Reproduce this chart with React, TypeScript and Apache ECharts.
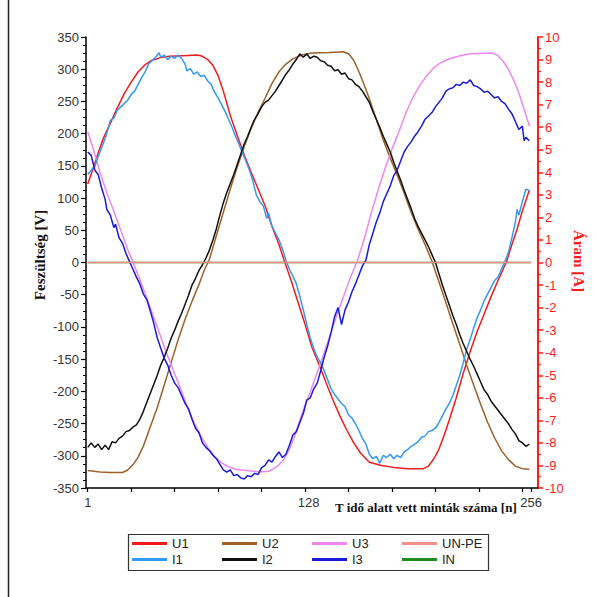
import React, { useEffect, useRef } from "react";
import * as echarts from "echarts";

const xTickValues = [1, 26, 51, 76, 101, 126, 151, 176, 201, 226, 251, 256];
const xLabelValues = [1, 128, 256];

const seriesNames = ["U1", "U2", "U3", "UN-PE", "I1", "I2", "I3", "IN"];
const seriesColors = ["#f01c1c", "#a0602a", "#ee88ee", "#f4928a", "#3399f5", "#111111", "#1a1ad8", "#228b22"];

const u1: number[][] = [[1,122],[4,145],[7,170],[10,193],[14,216],[18,240],[22,262],[26,280],[30,296],[34,307],[38,314],[43,318],[48,320],[56,321],[64,322],[67,320],[70,315],[73,306],[76,290],[79,266],[83,228],[87,197],[91,167],[95,140],[99,114],[103,88],[107,56],[111,28],[114,3],[118,-28],[122,-62],[126,-96],[130,-132],[134,-158],[138,-186],[142,-213],[146,-238],[150,-260],[154,-280],[158,-296],[163,-310],[170,-315],[177,-318],[185,-320],[194,-320],[197,-316],[200,-305],[203,-290],[206,-268],[209,-244],[213,-210],[217,-172],[221,-138],[225,-107],[229,-80],[233,-53],[237,-28],[242,2],[245,28],[248,52],[251,80],[255,112]];

const u2: number[][] = [[1,-323],[8,-325],[14,-326],[21,-326],[24,-322],[27,-314],[30,-302],[33,-285],[37,-255],[41,-225],[45,-190],[49,-155],[53,-120],[57,-88],[61,-60],[65,-34],[68,-12],[71,5],[75,42],[79,78],[83,114],[87,148],[91,180],[95,208],[99,233],[103,255],[107,278],[111,296],[115,308],[119,316],[124,322],[130,325],[140,326],[148,327],[151,324],[154,314],[157,296],[160,276],[163,254],[167,222],[171,190],[175,162],[179,136],[183,108],[187,78],[191,52],[195,28],[199,2],[203,-30],[207,-62],[211,-95],[215,-127],[219,-160],[223,-190],[227,-220],[231,-248],[235,-272],[239,-292],[243,-306],[247,-316],[251,-320],[255,-321]];

const u3: number[][] = [[1,203],[4,178],[8,140],[12,108],[16,80],[20,50],[24,20],[27,1],[30,-20],[34,-48],[38,-78],[42,-108],[46,-138],[50,-166],[54,-193],[58,-222],[62,-248],[66,-269],[70,-287],[74,-301],[78,-311],[82,-317],[86,-321],[92,-323],[100,-325],[105,-324],[108,-320],[111,-314],[114,-305],[117,-290],[120,-270],[123,-245],[126,-222],[129,-201],[132,-178],[136,-148],[140,-116],[144,-84],[148,-54],[152,-24],[156,2],[160,36],[164,76],[168,112],[172,146],[176,176],[180,203],[184,232],[188,256],[192,275],[196,290],[200,302],[204,310],[208,315],[214,320],[221,324],[234,325],[237,321],[240,312],[243,300],[246,283],[249,263],[252,238],[255,212]];

const unpe: number[][] = [[1,0],[256,0]];
const inn: number[][] = [[1,0],[256,0]];

const i1: number[][] = [[1,3.9],[3,4.1],[5,4.25],[7,4.7],[9,5.1],[11,5.5],[13,6.0],[14,6.3],[16,6.4],[18,6.75],[20,6.9],[22,7.05],[24,7.2],[26,7.45],[28,7.6],[30,7.9],[32,8.2],[34,8.45],[36,8.8],[38,8.95],[40,9.1],[42,9.3],[43,9.1],[45,9.2],[47,9.0],[49,9.15],[51,9.05],[53,9.2],[55,9.05],[57,8.8],[58,8.5],[60,8.6],[62,8.35],[64,8.45],[66,8.25],[68,8.3],[70,8.05],[72,7.9],[74,7.55],[76,7.3],[78,7.0],[80,6.7],[82,6.35],[84,6.0],[86,5.6],[88,5.25],[90,4.85],[92,4.5],[94,4.1],[96,3.6],[98,3.0],[100,2.7],[102,2.5],[104,1.95],[105,2.2],[107,1.6],[109,1.3],[111,1.0],[113,0.6],[115,0.1],[117,-0.3],[119,-0.6],[121,-0.95],[123,-1.5],[125,-2.1],[127,-2.75],[129,-3.35],[131,-3.8],[133,-4.2],[135,-4.45],[137,-4.8],[139,-5.2],[141,-5.6],[143,-5.85],[145,-6.05],[147,-6.25],[149,-6.4],[151,-6.75],[153,-6.9],[155,-7.15],[157,-7.45],[159,-7.8],[161,-8.05],[163,-8.5],[165,-8.7],[167,-8.6],[169,-8.9],[171,-8.55],[173,-8.65],[175,-8.5],[177,-8.7],[179,-8.55],[181,-8.65],[183,-8.4],[185,-8.3],[187,-8.15],[189,-8.05],[191,-7.95],[193,-7.75],[195,-7.7],[197,-7.5],[199,-7.45],[201,-7.35],[203,-7.1],[205,-6.8],[207,-6.5],[209,-6.25],[211,-5.9],[213,-5.45],[215,-5.0],[217,-4.45],[219,-3.85],[221,-3.4],[223,-2.9],[225,-2.45],[227,-2.1],[229,-1.7],[231,-1.4],[233,-1.1],[235,-0.8],[237,-0.65],[239,-0.3],[241,0.05],[243,0.45],[245,1.1],[247,1.8],[248,2.35],[249,2.1],[251,2.7],[253,3.25],[255,3.2]];

const i2: number[][] = [[1,-8.2],[3,-8.0],[5,-8.2],[7,-8.05],[9,-8.3],[11,-8.1],[13,-8.3],[15,-7.95],[17,-8.0],[19,-7.8],[21,-7.7],[23,-7.5],[25,-7.45],[27,-7.3],[29,-7.2],[31,-6.95],[33,-6.6],[35,-6.2],[37,-5.8],[39,-5.4],[41,-5.0],[43,-4.55],[45,-4.2],[47,-3.8],[49,-3.35],[51,-3.0],[53,-2.6],[55,-2.25],[57,-1.85],[59,-1.45],[61,-1.0],[63,-0.7],[65,-0.35],[67,-0.1],[69,0.2],[71,0.55],[73,1.0],[75,1.5],[77,2.1],[79,2.65],[81,3.1],[83,3.5],[85,3.9],[87,4.35],[89,4.8],[91,5.25],[93,5.6],[95,6.0],[97,6.35],[99,6.6],[101,6.9],[103,7.1],[105,7.2],[107,7.4],[109,7.6],[111,7.85],[113,8.1],[115,8.35],[117,8.55],[119,8.8],[121,9.0],[123,9.25],[125,9.1],[127,9.25],[129,9.05],[131,9.15],[133,9.1],[135,8.95],[137,8.9],[139,8.75],[141,8.7],[143,8.5],[145,8.55],[147,8.35],[149,8.4],[151,8.15],[153,8.1],[155,7.9],[157,7.8],[159,7.6],[161,7.35],[163,7.1],[165,6.7],[167,6.35],[169,6.0],[171,5.6],[173,5.25],[175,4.9],[177,4.45],[179,4.05],[181,3.65],[183,3.2],[185,2.8],[187,2.4],[189,1.95],[191,1.6],[193,1.3],[195,1.0],[197,0.7],[199,0.35],[201,0.0],[203,-0.5],[205,-1.0],[207,-1.45],[209,-1.9],[211,-2.35],[213,-2.75],[215,-3.2],[217,-3.6],[219,-3.95],[221,-4.3],[223,-4.6],[225,-4.95],[227,-5.3],[229,-5.65],[231,-5.85],[233,-6.15],[235,-6.35],[237,-6.55],[239,-6.75],[241,-6.95],[243,-7.15],[245,-7.4],[247,-7.6],[249,-7.9],[251,-8.0],[253,-8.15],[255,-8.05]];

const i3: number[][] = [[1,4.9],[3,4.75],[5,4.1],[7,3.9],[9,3.3],[11,2.8],[12,2.35],[14,2.1],[16,1.55],[17,1.7],[19,1.1],[21,0.85],[23,0.4],[25,0.05],[27,-0.3],[29,-0.65],[31,-0.95],[33,-1.4],[35,-1.65],[37,-2.15],[39,-2.7],[41,-3.35],[43,-3.8],[45,-4.25],[47,-4.55],[49,-5.0],[51,-5.35],[53,-5.55],[55,-5.9],[57,-6.25],[59,-6.5],[61,-6.95],[63,-7.35],[65,-7.55],[67,-8.0],[69,-8.2],[71,-8.35],[73,-8.55],[75,-8.7],[77,-8.95],[79,-9.2],[81,-9.3],[83,-9.2],[85,-9.45],[87,-9.4],[89,-9.55],[91,-9.6],[93,-9.45],[95,-9.5],[97,-9.35],[99,-9.4],[101,-9.1],[103,-9.0],[105,-8.75],[107,-8.85],[109,-8.6],[111,-8.4],[113,-8.65],[115,-8.5],[117,-8.1],[119,-7.65],[121,-7.5],[123,-7.1],[125,-6.7],[127,-6.1],[129,-6.0],[131,-5.6],[133,-5.35],[135,-4.8],[137,-4.2],[139,-3.7],[141,-3.1],[143,-2.4],[145,-2.0],[147,-2.75],[149,-2.1],[151,-1.75],[153,-1.3],[155,-0.95],[157,-0.55],[159,-0.15],[161,0.1],[163,0.8],[165,1.3],[167,1.8],[169,2.2],[171,2.7],[173,3.05],[175,3.4],[177,3.85],[179,4.1],[181,4.5],[183,4.9],[185,5.15],[187,5.35],[189,5.6],[191,5.8],[193,6.05],[195,6.35],[197,6.5],[199,6.65],[201,6.9],[203,7.1],[205,7.3],[207,7.6],[209,7.7],[211,7.75],[213,7.9],[215,7.85],[217,8.0],[219,7.95],[221,8.1],[223,7.85],[225,7.8],[227,7.7],[229,7.55],[231,7.6],[233,7.45],[235,7.3],[237,7.35],[239,7.15],[241,7.05],[243,6.8],[245,6.6],[247,6.25],[249,5.9],[251,6.05],[252,5.4],[253,5.55],[255,5.4]];

const seriesData = [u1, u2, u3, unpe, i1, i2, i3, inn];
const seriesAxis = [0, 0, 0, 0, 1, 1, 1, 1];
const drawOrder = [7, 0, 1, 2, 4, 5, 6, 3];

const legendCols = [132, 222, 312, 402];
const legendRows = [537, 553];

export default function App() {
  const ref = useRef<HTMLDivElement>(null);
  useEffect(() => {
    if (!ref.current) return;
    const chart = echarts.init(ref.current, null, { renderer: "svg" });
    const sans = "Liberation Sans, Arial, sans-serif";
    const serif = "Liberation Serif, Times New Roman, serif";
    const legends = seriesNames.map((name, i) => ({
      data: [name],
      left: legendCols[i % 4],
      top: legendRows[Math.floor(i / 4)],
      icon: "rect",
      itemWidth: 35,
      itemHeight: 3,
      padding: 0,
      selectedMode: false,
      textStyle: { fontSize: 13, color: "#222", fontFamily: sans },
    }));
    chart.setOption({
      animation: false,
      backgroundColor: "#fff",
      grid: { left: 86, right: 59, top: 37, bottom: 109 },
      legend: legends,
      xAxis: {
        type: "value",
        min: 0,
        max: 260,
        axisLine: { show: true, onZero: false, lineStyle: { color: "#000", width: 1.5 } },
        axisTick: { show: true, customValues: xTickValues, length: 4, lineStyle: { color: "#000", width: 1.2 } },
        axisLabel: { customValues: xLabelValues, fontSize: 13, color: "#333", fontFamily: sans, margin: 8 },
        splitLine: { show: false },
      },
      yAxis: [
        {
          type: "value",
          min: -350,
          max: 350,
          interval: 50,
          position: "left",
          axisLine: { show: true, lineStyle: { color: "#000", width: 1.5 } },
          axisTick: { show: true, length: 5, lineStyle: { color: "#000", width: 1.2 } },
          minorTick: { show: true, splitNumber: 4, length: 3, lineStyle: { color: "#000", width: 1 } },
          axisLabel: { fontSize: 13, color: "#333", fontFamily: sans, margin: 7 },
          splitLine: { show: false },
        },
        {
          type: "value",
          min: -10,
          max: 10,
          interval: 1,
          position: "right",
          axisLine: { show: true, lineStyle: { color: "#ff1a1a", width: 2 } },
          axisTick: { show: true, length: 5, lineStyle: { color: "#ff1a1a", width: 1.5 } },
          minorTick: { show: true, splitNumber: 2, length: 3, lineStyle: { color: "#ff1a1a", width: 1.2 } },
          axisLabel: { fontSize: 13, color: "#ff1a1a", fontFamily: sans, margin: 7 },
          splitLine: { show: false },
        },
      ],
      series: drawOrder.map((i) => ({
        name: seriesNames[i],
        type: "line",
        yAxisIndex: seriesAxis[i],
        data: seriesData[i],
        showSymbol: false,
        symbol: "none",
        lineStyle: { color: seriesColors[i], width: 1.5 },
        itemStyle: { color: seriesColors[i] },
        z: i === 3 ? 5 : 3,
      })),
      graphic: [
        { type: "line", shape: { x1: 8.5, y1: 0, x2: 8.5, y2: 597 }, style: { stroke: "#222", lineWidth: 1.5 } },
        { type: "rect", shape: { x: 128.5, y: 534.5, width: 360, height: 36 }, style: { fill: "none", stroke: "#333", lineWidth: 1.2 } },
        {
          type: "text",
          x: 40,
          y: 255,
          rotation: Math.PI / 2,
          style: { text: "Feszültség [V]", fontSize: 15, fontWeight: "bold", fontFamily: serif, fill: "#111", align: "center", verticalAlign: "middle" },
        },
        {
          type: "text",
          x: 579,
          y: 261,
          rotation: -Math.PI / 2,
          style: { text: "Áram [A]", fontSize: 15, fontWeight: "bold", fontFamily: serif, fill: "#ff1a1a", align: "center", verticalAlign: "middle" },
        },
        {
          type: "text",
          x: 335,
          y: 507,
          style: { text: "T idő alatt vett minták száma [n]", fontSize: 13, fontWeight: "bold", fontFamily: serif, fill: "#111", align: "left", verticalAlign: "middle" },
        },
      ],
    });
    return () => chart.dispose();
  }, []);
  return <div ref={ref} style={{ position: "fixed", left: 0, top: 0, width: 597, height: 597 }} />;
}
